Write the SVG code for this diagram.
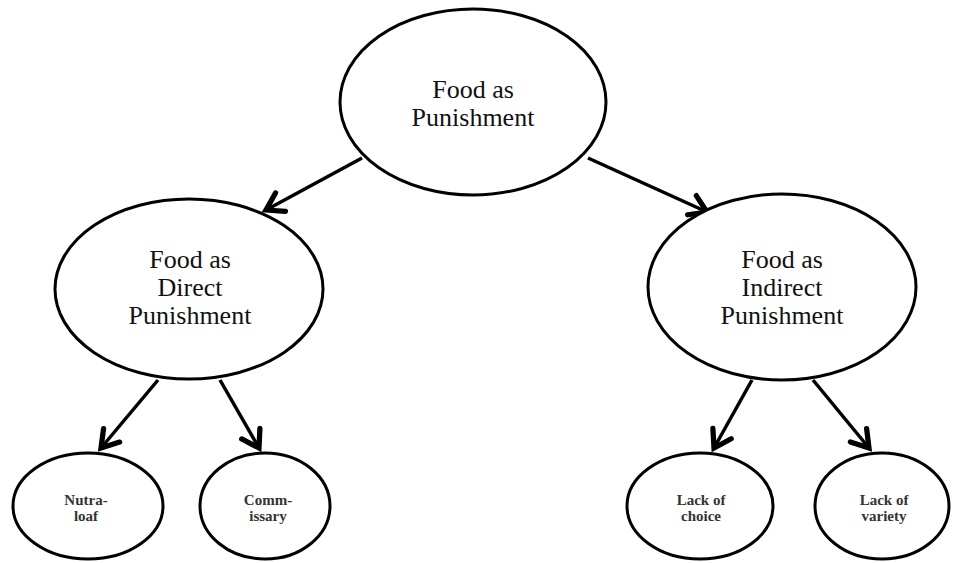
<svg xmlns="http://www.w3.org/2000/svg" width="953" height="563" viewBox="0 0 953 563">
<style>
.node ellipse{fill:#fff;stroke:#000;stroke-width:3}
text{font-family:'Liberation Serif','DejaVu Serif',serif;text-anchor:middle}
.big{font-size:26px;fill:#111}
.small{font-size:15px;font-weight:bold;fill:#333}
.edges line{stroke:#000;stroke-width:3.5}
</style>
<defs>
<marker id="arr" markerUnits="userSpaceOnUse" markerWidth="30" markerHeight="30" refX="14" refY="10" orient="auto" viewBox="0 0 20 20">
<path d="M3,3 L14,10 L3,17" fill="none" stroke="#000" stroke-width="3.5" stroke-linecap="round" stroke-linejoin="miter"/>
</marker>
</defs>
<rect width="953" height="563" fill="#fff"/>
<g class="edges" id="connectors">
<line x1="362" y1="158" x2="266" y2="210" marker-end="url(#arr)"/>
<line x1="588" y1="158" x2="707" y2="212" marker-end="url(#arr)"/>
<line x1="158" y1="380" x2="101" y2="448" marker-end="url(#arr)"/>
<line x1="220" y1="380" x2="259" y2="448" marker-end="url(#arr)"/>
<line x1="752" y1="380" x2="714" y2="448" marker-end="url(#arr)"/>
<line x1="813" y1="380" x2="869" y2="448" marker-end="url(#arr)"/>
</g>
<g class="node" id="root">
<ellipse cx="473" cy="102" rx="133" ry="93"/>
<text class="big" x="473" y="98" font-family="Liberation Serif, serif">Food as</text>
<text class="big" x="473" y="126" font-family="Liberation Serif, serif">Punishment</text>
</g>
<g class="node" id="direct">
<ellipse cx="189" cy="289" rx="134" ry="90"/>
<text class="big" x="190" y="268">Food as</text>
<text class="big" x="190" y="296">Direct</text>
<text class="big" x="190" y="324">Punishment</text>
</g>
<g class="node" id="indirect">
<ellipse cx="782" cy="287" rx="134" ry="93"/>
<text class="big" x="782" y="268">Food as</text>
<text class="big" x="782" y="296">Indirect</text>
<text class="big" x="782" y="324">Punishment</text>
</g>
<g class="node" id="nutraloaf">
<ellipse cx="88" cy="506" rx="75" ry="53"/>
<text class="small" x="86" y="505">Nutra-</text>
<text class="small" x="86" y="521">loaf</text>
</g>
<g class="node" id="commissary">
<ellipse cx="265" cy="506" rx="65" ry="53"/>
<text class="small" x="268" y="505">Comm-</text>
<text class="small" x="268" y="521">issary</text>
</g>
<g class="node" id="choice">
<ellipse cx="700" cy="506" rx="73" ry="53"/>
<text class="small" x="701" y="505">Lack of</text>
<text class="small" x="701" y="521">choice</text>
</g>
<g class="node" id="variety">
<ellipse cx="882" cy="506" rx="67" ry="53"/>
<text class="small" x="884" y="505">Lack of</text>
<text class="small" x="884" y="521">variety</text>
</g>
</svg>
